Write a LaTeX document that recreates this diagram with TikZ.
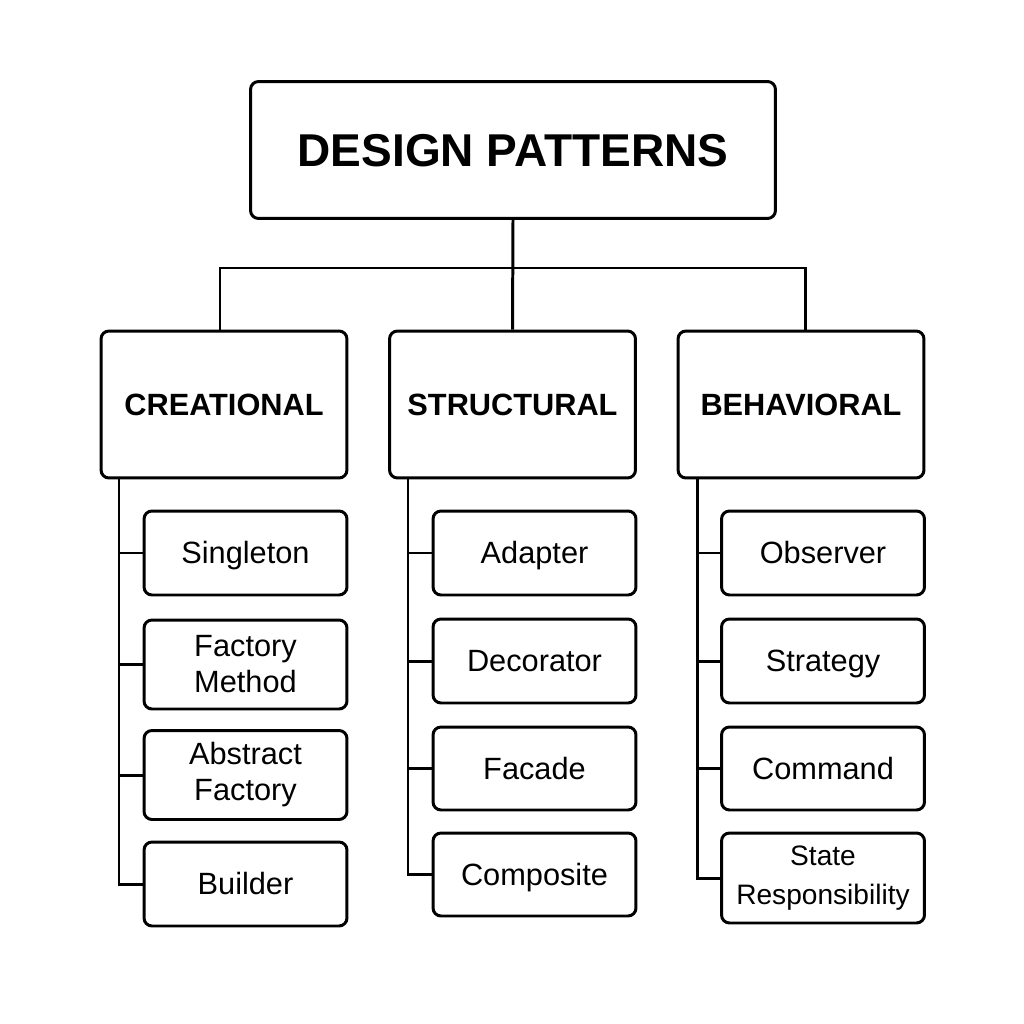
\documentclass[tikz,border=0pt]{standalone}
\usepackage{fontspec}
\setmainfont{Liberation Sans}
\begin{document}
\begin{tikzpicture}[x=0.02cm,y=-0.02cm,
  box/.style={draw,line width=1.7pt,rounded corners=0.16cm,align=center,inner sep=0pt},
  titlebox/.style={box,minimum width=10.5cm,minimum height=2.74cm,text height=18.6pt,text depth=0pt,font=\fontsize{26.2}{30}\selectfont\bfseries},
  catbox/.style={box,minimum width=4.92cm,minimum height=2.94cm,text height=12.5pt,text depth=0pt,font=\fontsize{17.5}{21}\selectfont\bfseries},
  leaf/.style={box,minimum width=4.06cm,font=\fontsize{17.5}{20.5}\selectfont},
  one/.style={text height=12.5pt,text depth=0pt},
  conn/.style={line width=1.7pt}]
\useasboundingbox[fill=white] (0,0) rectangle (1024,1024);
\node[titlebox] (top) at (513,150) {DESIGN PATTERNS};
\node[catbox] (cr) at (224,404.5) {CREATIONAL};
\node[catbox] (st) at (512.5,404.5) {STRUCTURAL};
\node[catbox] (be) at (801,404.5) {BEHAVIORAL};
\coordinate (hl) at (220,268);
\coordinate (hr) at (805,268);
\draw[conn] (top.south) -- (st.north);
\draw[conn] (hl |- cr.north) -- (hl) -- (hr) -- (hr |- be.north);
% creational
\node[leaf,one,minimum height=1.68cm] (c1) at (245.5,553) {Singleton};
\node[leaf,minimum height=1.78cm] (c2) at (245.5,664.5) {Factory\\Method};
\node[leaf,minimum height=1.78cm] (c3) at (245.5,775) {Abstract\\Factory};
\node[leaf,one,minimum height=1.68cm] (c4) at (245.5,884) {Builder};
% structural
\node[leaf,one,minimum height=1.68cm] (s1) at (534.5,553) {Adapter};
\node[leaf,one,minimum height=1.68cm] (s2) at (534.5,661) {Decorator};
\node[leaf,one,minimum height=1.66cm] (s3) at (534.5,768.5) {Facade};
\node[leaf,one,minimum height=1.66cm] (s4) at (534.5,874.5) {Composite};
% behavioral
\node[leaf,one,minimum height=1.68cm] (b1) at (823,553) {Observer};
\node[leaf,one,minimum height=1.68cm] (b2) at (823,661) {Strategy};
\node[leaf,one,minimum height=1.66cm] (b3) at (823,768.5) {Command};
\node[leaf,minimum height=1.80cm,font=\fontsize{16}{22.6}\selectfont] (b4) at (823,878) {State\\Responsibility};
% trunks
\coordinate (crT) at (119,477);
\coordinate (stT) at (408,477);
\coordinate (beT) at (697,477);
\draw[conn] (crT) |- (c4.west);
\foreach \n in {c1,c2,c3} \draw[conn] (crT |- \n.west) -- (\n.west);
\draw[conn] (stT) |- (s4.west);
\foreach \n in {s1,s2,s3} \draw[conn] (stT |- \n.west) -- (\n.west);
\draw[conn] (beT) |- (b4.west);
\foreach \n in {b1,b2,b3} \draw[conn] (beT |- \n.west) -- (\n.west);
\end{tikzpicture}
\end{document}
